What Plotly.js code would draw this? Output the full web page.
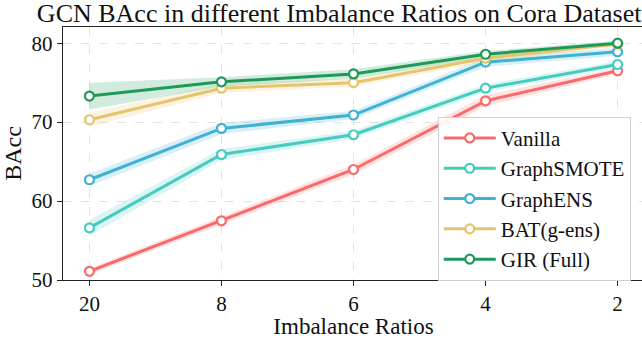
<!DOCTYPE html>
<html><head><meta charset="utf-8">
<script src="https://cdn.plot.ly/plotly-3.0.1.min.js"></script>
<style>html,body{margin:0;padding:0;overflow:hidden;background:#fff}#chart{width:646px;height:339px}</style>
</head><body><div id="chart"></div>
<script>
const categories = ["20", "8", "6", "4", "2"];
const seriesNames = ["Vanilla", "GraphSMOTE", "GraphENS", "BAT(g-ens)", "GIR (Full)"];
const vanilla    = [51.1, 57.5, 64.0, 72.7, 76.5];
const graphSmote = [56.6, 65.9, 68.4, 74.3, 77.3];
const graphEns   = [62.7, 69.2, 70.9, 77.6, 78.9];
const bat        = [70.3, 74.3, 75.0, 78.1, 79.9];
const gir        = [73.3, 75.1, 76.1, 78.6, 80.0];
const vanillaStd    = [0.4, 0.5, 0.6, 0.7, 0.4];
const graphSmoteStd = [1.0, 0.7, 0.5, 0.5, 0.4];
const graphEnsStd   = [0.8, 0.7, 0.5, 0.6, 0.5];
const batStd        = [0.9, 0.6, 0.5, 0.5, 0.3];
const girStd        = [1.7, 0.6, 0.6, 0.4, 0.3];
const colors = ["#fa6a6a", "#45cbc0", "#3fb1d3", "#e6c46c", "#1e9a58"];
const fills  = ["rgba(250,106,106,0.2)", "rgba(69,203,192,0.2)", "rgba(63,177,211,0.2)", "rgba(230,196,108,0.2)", "rgba(30,154,88,0.2)"];

const allVals = [vanilla, graphSmote, graphEns, bat, gir];
const allStd = [vanillaStd, graphSmoteStd, graphEnsStd, batStd, girStd];
const traces = [];
allVals.forEach((vals, i) => {
  const std = allStd[i];
  traces.push({x: categories, y: vals.map((v, j) => v + std[j]), type: 'scatter', mode: 'lines',
    line: {width: 0}, showlegend: false, hoverinfo: 'skip'});
  traces.push({x: categories, y: vals.map((v, j) => v - std[j]), type: 'scatter', mode: 'lines',
    line: {width: 0}, fill: 'tonexty', fillcolor: fills[i], showlegend: false, hoverinfo: 'skip'});
});
allVals.forEach((vals, i) => {
  traces.push({x: categories, y: vals, name: seriesNames[i], type: 'scatter', mode: 'lines+markers',
    line: {color: colors[i], width: 3},
    marker: {symbol: 'circle', size: 9, color: '#ffffff', line: {color: colors[i], width: 2.2}}});
});

const serif = "Times New Roman";
const layout = {
  width: 646, height: 339,
  margin: {l: 63, r: 2, t: 27, b: 59},
  paper_bgcolor: '#ffffff', plot_bgcolor: '#ffffff',
  font: {family: serif},
  title: {text: 'GCN BAcc in different Imbalance Ratios on Cora Dataset', font: {family: serif, size: 26, color: '#111'},
    x: 0.525, xanchor: 'center', y: 0.99, yanchor: 'top', yref: 'container'},
  xaxis: {type: 'category', range: [-0.2, 4.2], showline: true, mirror: true, linecolor: '#222', linewidth: 1.2,
    ticks: 'outside', ticklen: 5, tickcolor: '#222', tickfont: {family: serif, size: 21, color: '#111'}, zeroline: false,
    showgrid: true, gridcolor: '#e4e4e4', griddash: 'dash', gridwidth: 1,
    title: {text: 'Imbalance Ratios', font: {family: serif, size: 23, color: '#111'}, standoff: 3}},
  yaxis: {range: [50, 82.05], tickvals: [50, 60, 70, 80], showline: true, mirror: true, linecolor: '#222', linewidth: 1.2,
    ticks: 'outside', ticklen: 5, tickcolor: '#222', tickfont: {family: serif, size: 21, color: '#111'}, zeroline: false,
    showgrid: true, gridcolor: '#e4e4e4', griddash: 'dash', gridwidth: 1,
    title: {text: 'BAcc', font: {family: serif, size: 24, color: '#111'}, standoff: 6}},
  legend: {x: 0.645, xanchor: 'left', y: 0.645, yanchor: 'top', bgcolor: 'rgba(255,255,255,0.9)', traceorder: 'normal',
    bordercolor: '#d0d0d0', borderwidth: 1, font: {family: serif, size: 21, color: '#111'}, tracegroupgap: 0, itemwidth: 52},
  showlegend: true
};
Plotly.newPlot('chart', traces, layout, {displayModeBar: false, staticPlot: true});
</script></body></html>
